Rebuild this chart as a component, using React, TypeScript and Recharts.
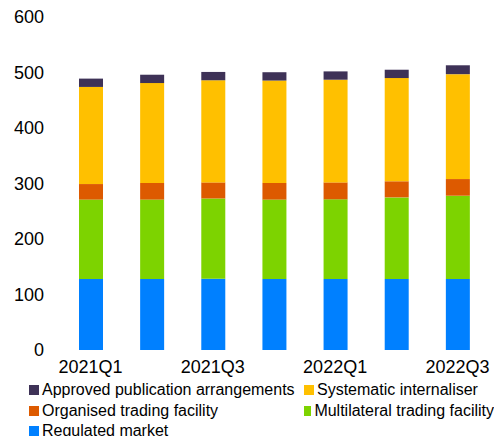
import React from 'react';
import { BarChart, Bar, XAxis, YAxis, Legend } from 'recharts';

const categories = ['2021Q1', '2021Q2', '2021Q3', '2021Q4', '2022Q1', '2022Q2', '2022Q3'];
const regulatedMarket = [128, 128, 128.5, 128, 128, 128, 128];
const multilateralTradingFacility = [143, 143, 144.5, 143, 143.5, 147, 150];
const organisedTradingFacility = [28, 30, 29, 30, 30.5, 29, 30];
const systematicInternaliser = [175, 180, 184, 184.5, 185, 186, 189];
const approvedPublicationArrangements = [15, 15, 15, 15, 15, 15, 16];
const yTicks = [0, 100, 200, 300, 400, 500, 600];

const series = [
  { key: 'reg', name: 'Regulated market', values: regulatedMarket, color: '#0080FF' },
  { key: 'mtf', name: 'Multilateral trading facility', values: multilateralTradingFacility, color: '#7DD300' },
  { key: 'otf', name: 'Organised trading facility', values: organisedTradingFacility, color: '#DD5A00' },
  { key: 'si', name: 'Systematic internaliser', values: systematicInternaliser, color: '#FFC000' },
  { key: 'apa', name: 'Approved publication arrangements', values: approvedPublicationArrangements, color: '#3E3257' },
];

const legendOrder = ['apa', 'si', 'otf', 'mtf', 'reg'];

const data = categories.map((c, i) => {
  const row: Record<string, any> = { cat: c };
  series.forEach((s) => {
    row[s.key] = s.values[i];
  });
  return row;
});

const FONT = '"Liberation Sans", Arial, sans-serif';

const LegendContent = () => {
  const items = legendOrder.map((k) => series.find((s) => s.key === k)!);
  return (
    <div
      style={{
        display: 'grid',
        gridTemplateColumns: '275px 190px',
        paddingLeft: 29,
        paddingTop: 2,
        height: 58,
        fontFamily: FONT,
        fontSize: 16,
        color: '#000',
        lineHeight: '20.5px',
        boxSizing: 'border-box',
      }}
    >
      {items.map((s) => (
        <div key={s.key} style={{ display: 'flex', alignItems: 'center', whiteSpace: 'nowrap' }}>
          <span style={{ display: 'inline-block', width: 10, height: 10, background: s.color, marginRight: 3 }} />
          <span>{s.name}</span>
        </div>
      ))}
    </div>
  );
};

export default function App() {
  return (
    <div style={{ position: 'absolute', left: 0, top: 0, width: 494, height: 436, background: '#fff' }}>
      <BarChart
        width={494}
        height={436}
        data={data}
        margin={{ top: 17, right: 6, bottom: 0, left: 0 }}
      >
        <XAxis
          dataKey="cat"
          interval={1}
          axisLine={false}
          tickLine={false}
          tickSize={0}
          tickMargin={10}
          height={28}
          tick={{ fill: '#000', fontSize: 18, fontFamily: FONT }}
        />
        <YAxis
          domain={[0, 600]}
          ticks={yTicks}
          width={60}
          axisLine={false}
          tickLine={false}
          tickSize={0}
          tickMargin={16}
          tick={{ fill: '#000', fontSize: 18, fontFamily: FONT }}
        />
        <Legend verticalAlign="bottom" content={<LegendContent />} wrapperStyle={{ left: 0, width: 494, height: 58 }} />
        {series.map((s) => (
          <Bar key={s.key} dataKey={s.key} name={s.name} stackId="a" fill={s.color} barSize={24} isAnimationActive={false} />
        ))}
      </BarChart>
    </div>
  );
}
